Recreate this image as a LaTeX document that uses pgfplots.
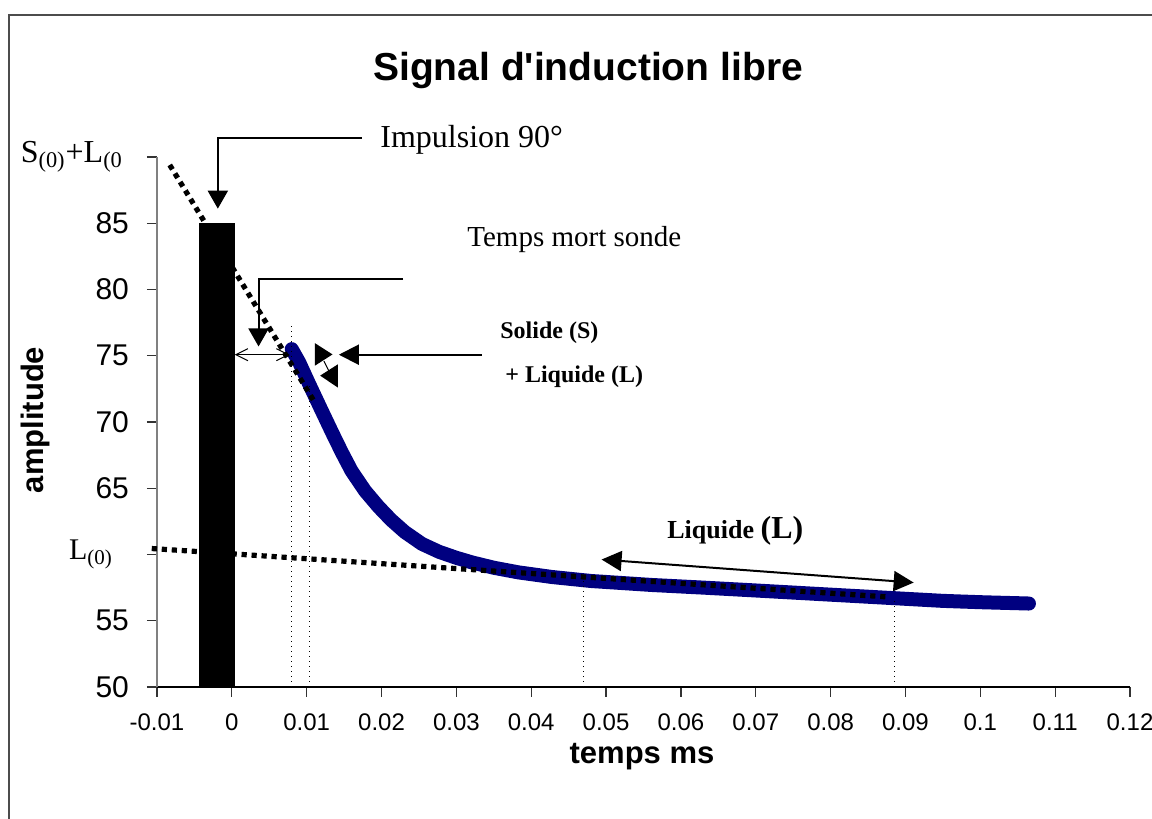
\documentclass[border=0pt]{standalone}
\usepackage{fontspec}
\setmainfont{Liberation Sans}
\newfontfamily\serif{Liberation Serif}
\usepackage{pgfplots}
\pgfplotsset{compat=1.18}
\usetikzlibrary{arrows.meta}
\definecolor{navy}{RGB}{0,0,128}

\begin{document}
\begin{tikzpicture}
\useasboundingbox (-78.5pt,-66pt) rectangle (497.5pt,343.5pt);
\draw[black!70, line width=0.8pt] (-74pt,-80pt) -- (-74pt,336pt) -- (520pt,336pt);
\begin{axis}[
    at={(0pt,0pt)}, anchor=south west,
    scale only axis, width=486.5pt, height=265pt,
    xmin=-0.01, xmax=0.12, ymin=50, ymax=90,
    axis x line=bottom, axis y line=left,
    x axis line style={-, black, line width=0.6pt},
    y axis line style={-, gray, line width=0.6pt},
    tick align=outside, major tick length=5pt,
    tick style={black!80, line width=0.6pt},
    xtick={-0.01,0,0.01,0.02,0.03,0.04,0.05,0.06,0.07,0.08,0.09,0.1,0.11,0.12},
    xticklabels={-0.01,0,0.01,0.02,0.03,0.04,0.05,0.06,0.07,0.08,0.09,0.1,0.11,0.12},
    ytick={50,55,60,65,70,75,80,85,90},
    yticklabels={50,55,{\serif L\textsubscript{(0)}\rule{8pt}{0pt}},65,70,75,80,85,{\serif\fontsize{16}{19}\selectfont S\textsubscript{(0)}+L\textsubscript{(0}\rule{3pt}{0pt}}},
    xticklabel style={font=\fontsize{12}{14}\selectfont, yshift=-5pt},
    yticklabel style={font=\fontsize{15}{18}\selectfont, xshift=-5.5pt},
    clip=false,
]
% signal
\addplot[navy, line width=7pt, line join=round, line cap=round] coordinates {
(0.0080,75.5) (0.0090,74.5) (0.0103,72.9) (0.0118,71.1) (0.0134,69.2)
(0.0147,67.7) (0.0160,66.3) (0.0178,64.8) (0.0196,63.6) (0.0213,62.6)
(0.0231,61.7) (0.0254,60.8) (0.0277,60.2) (0.0300,59.75) (0.0321,59.4)
(0.0350,59.0) (0.0383,58.65) (0.0428,58.3) (0.0480,58.0) (0.0561,57.7)
(0.0630,57.5) (0.0695,57.3) (0.0790,57.0) (0.0886,56.7) (0.0950,56.5)
(0.1000,56.4) (0.1065,56.3)
};
% asymptotes
\addplot[black, line width=2.6pt, dash pattern=on 2.6pt off 2.4pt] coordinates {(-0.0083,89.4) (0.01095,71.6)};
\addplot[black, line width=2.6pt, dash pattern=on 2.6pt off 2.4pt] coordinates {(-0.0107,60.45) (0.0875,56.8)};
% pulse
\addplot[fill=black, draw=none] coordinates {(-0.0044,50) (0.0004,50) (0.0004,85) (-0.0044,85)} -- cycle;
% vertical guides
\draw[black, line width=0.5pt, dotted] (axis cs:0.0080,50) -- (axis cs:0.0080,77.4);
\draw[black, line width=0.5pt, dotted] (axis cs:0.0104,50) -- (axis cs:0.0104,73);
\draw[black, line width=0.5pt, dotted] (axis cs:0.0470,50) -- (axis cs:0.0470,58.2);
\draw[black, line width=0.5pt, dotted] (axis cs:0.0886,50) -- (axis cs:0.0886,56.7);
% dead time
\draw[line width=0.5pt, {Straight Barb[length=6pt,width=6pt]}-{Straight Barb[length=6pt,width=6pt]}] (axis cs:0.0004,75.08) -- (axis cs:0.0077,75.08);
% callouts
\draw[line width=1pt, -{Triangle[length=9pt,width=10pt]}] (axis cs:0.01737,91.4) -- (axis cs:-0.00187,91.4) -- (axis cs:-0.00187,86.1);
\draw[line width=1pt, -{Triangle[length=9pt,width=10pt]}] (axis cs:0.0229,80.8) -- (axis cs:0.00357,80.8) -- (axis cs:0.00357,75.7);
\draw[line width=1pt, -{Triangle[length=10pt,width=10pt]}] (axis cs:0.0334,75.08) -- (axis cs:0.0143,75.08);
\fill (axis cs:0.0111,75.95) -- (axis cs:0.0111,74.25) -- (axis cs:0.01345,75.1) -- cycle;
\fill (axis cs:0.01416,74.35) -- (axis cs:0.01416,72.6) -- (axis cs:0.0118,73.5) -- cycle;
\draw[line width=0.5pt] (axis cs:0.0123,74.6) -- (axis cs:0.0130,73.8);
\draw[line width=1pt, {Triangle[length=10pt,width=10pt]}-{Triangle[length=10pt,width=10pt]}] (axis cs:0.0494,59.62) -- (axis cs:0.0911,57.88);
\end{axis}
\node[font=\fontsize{19.5}{23}\selectfont\bfseries] at (215.5pt,308pt) {Signal d\textquotesingle induction libre};
\node[font=\fontsize{15.5}{18}\selectfont\bfseries, rotate=90] at (-61pt,133.5pt) {amplitude};
\node[font=\fontsize{15.5}{18}\selectfont\bfseries] at (242.5pt,-35pt) {temps ms};
\node[font=\serif\fontsize{16}{19}\selectfont, anchor=west, inner sep=0pt] at (111.5pt,273.5pt) {Impulsion 90°};
\node[font=\serif\fontsize{14.5}{17}\selectfont, anchor=west, inner sep=0pt] at (155pt,223.5pt) {Temps mort sonde};
\node[font=\serif\fontsize{12}{14}\selectfont\bfseries, anchor=west, inner sep=0pt] at (171.5pt,177pt) {Solide (S)};
\node[font=\serif\fontsize{12}{14}\selectfont\bfseries, anchor=west, inner sep=0pt] at (174pt,155pt) {+ Liquide (L)};
\node[font=\serif\bfseries, anchor=west, inner sep=0pt] at (255pt,78pt) {\fontsize{13}{15}\selectfont Liquide \fontsize{16}{19}\selectfont(L)};
\end{tikzpicture}
\end{document}
